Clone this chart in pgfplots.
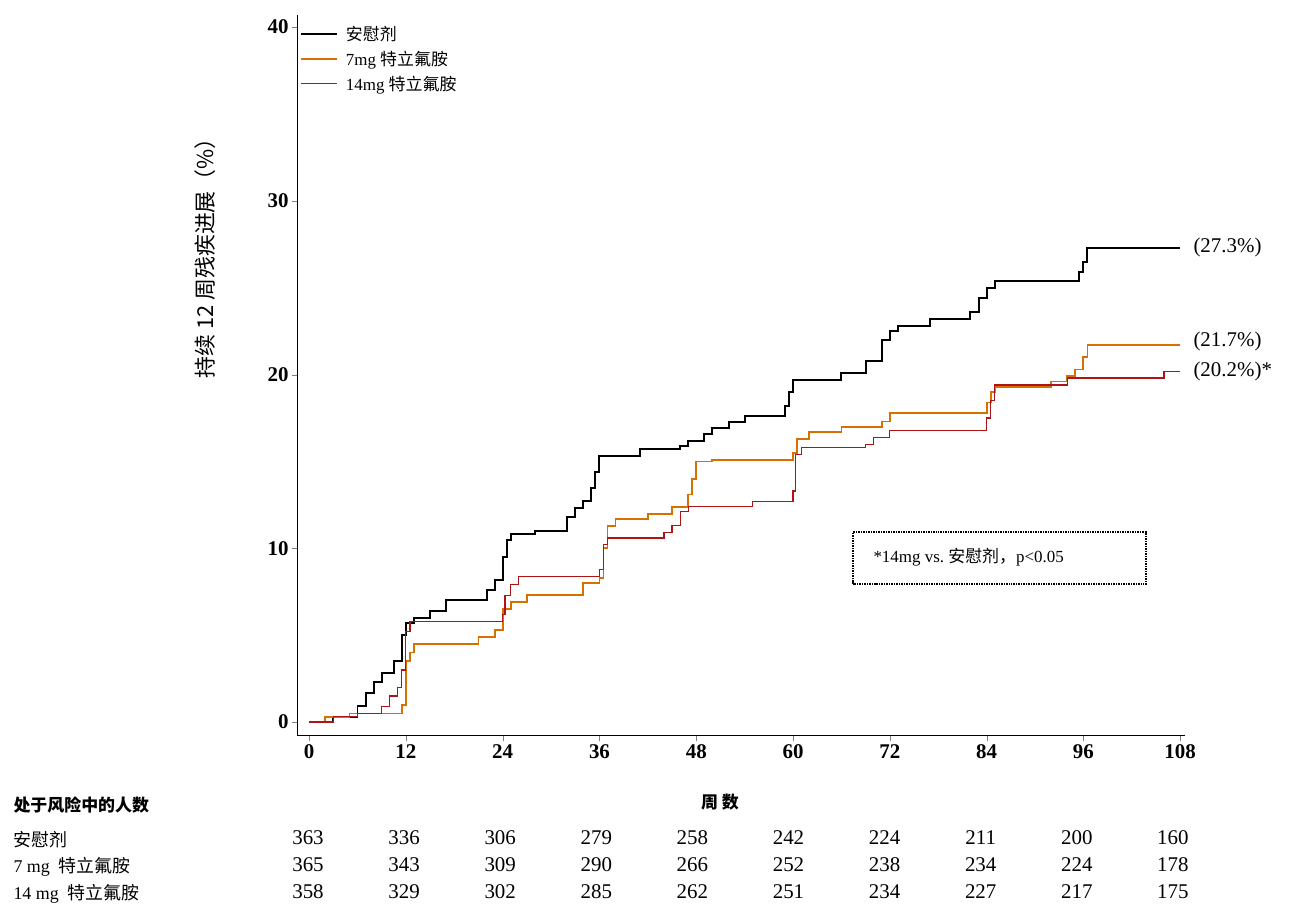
\documentclass[border=0pt]{standalone}
\usepackage{pgfplots}
\pgfplotsset{compat=1.18}
\usepackage{fontspec}
\setmainfont{Liberation Serif}
\newfontfamily\cjk{Noto Sans CJK SC}
\begin{document}
\begin{tikzpicture}[x=1bp,y=1bp]
\path (0,0) rectangle (1295,903);
\begin{axis}[at={(297bp,167bp)},anchor=south west,scale only axis,width=888bp,height=721bp,
 xmin=-1.5,xmax=108.6,ymin=-0.8,ymax=40.7,
 axis x line*=bottom, axis y line*=left, axis line style={line width=1pt},
 xtick={0,12,...,108}, ytick={0,10,20,30,40}, tick align=outside, major tick length=5bp,
 /pgf/number format/assume math mode=true,
 tick label style={font=\fontsize{21}{24}\selectfont\bfseries},
 ylabel={\cjk 持续 12 周残疾进展（\%）}, ylabel style={font=\fontsize{22}{26}\selectfont, at={(axis description cs:-0.088,0.67)}},
 legend style={at={(axis description cs:0.0,0.99)},anchor=north west,draw=none,fill=none,font=\fontsize{17}{20}\selectfont, row sep=5bp, nodes={inner xsep=8bp}},
 legend image post style={xscale=2.1},
 legend cell align=left, clip=false]
\addplot[const plot, black, line width=2pt] coordinates {(0,0)(3,0.3)(6,0.9)(7,1.7)(8,2.3)(9,2.8)(10.5,3.5)(11.5,5)(12,5.7)(13,6)(15,6.4)(17,7.0)(22,7.6)(23,8.2)(24,9.5)(24.5,10.5)(25,10.8)(28,11.0)(32,11.8)(33,12.3)(34,12.7)(35,13.5)(35.5,14.4)(36,15.3)(41,15.7)(46,15.9)(47,16.2)(49,16.6)(50,16.9)(52,17.3)(54,17.6)(59,18.2)(59.5,19)(60,19.7)(66,20.1)(69,20.8)(71,22.0)(72,22.5)(73,22.8)(77,23.2)(82,23.6)(83,24.4)(84,25.0)(85,25.4)(95.5,25.9)(96,26.5)(96.5,27.3)(108,27.3)};
\addlegendentry{\cjk 安慰剂}
\addplot[const plot, color={rgb,255:red,214;green,112;blue,0}, line width=1.8pt] coordinates {(0,0)(2,0.3)(5,0.5)(11.5,1)(12,3.5)(12.5,4)(13,4.5)(21,4.9)(23,5.3)(24,6.5)(25,6.9)(27,7.3)(34,8.0)(36,8.3)(36.5,10)(37,11.3)(38,11.7)(42,12.0)(45,12.4)(47,13.1)(47.5,14)(48,15.0)(50,15.1)(60,15.5)(60.5,16.3)(62,16.7)(66,17.0)(71,17.3)(72,17.8)(84,18.4)(84.5,19.0)(85,19.3)(92,19.6)(94,19.9)(95,20.3)(96,21.0)(96.5,21.7)(108,21.7)};
\addlegendentry{7mg {\cjk 特立氟胺}}
\addplot[const plot, color={rgb,255:red,175;green,20;blue,20}, line width=1.2pt] coordinates {(0,0)(3,0.3)(6,0.5)(9,0.9)(10,1.5)(11,2)(11.5,3)(12,5.2)(12.5,5.8)(24,6.2)(24.3,7.3)(25,7.9)(26,8.4)(36,8.8)(36.5,10.2)(37,10.6)(44,10.9)(45,11.3)(46,12.1)(47,12.4)(55,12.7)(60,13.3)(60.3,15.4)(61,15.8)(69,16.0)(70,16.4)(72,16.8)(84,17.5)(84.5,18.5)(85,19.4)(94,19.8)(106,20.2)(108,20.2)};
\addlegendentry{14mg {\cjk 特立氟胺}}
\end{axis}
\begin{scope}[font=\fontsize{21}{24}\selectfont]
\node[anchor=west] at (1190,656) {(27.3\%)};
\node[anchor=west] at (1190,562) {(21.7\%)};
\node[anchor=west] at (1190,532) {(20.2\%)*};
\end{scope}
\draw[densely dotted, line width=1.5pt] (853,319) rectangle (1146,371);
\node[anchor=west,font=\fontsize{17}{20}\selectfont] at (870,346) {*14mg vs.\ {\cjk 安慰剂，}p<0.05};
\node[anchor=west,font=\fontsize{17}{20}\selectfont\cjk\bfseries] at (10,98) {处于风险中的人数};
\node[font=\fontsize{17}{20}\selectfont\cjk\bfseries] at (720,101) {周\ 数};
\begin{scope}[font=\fontsize{18}{20}\selectfont]
\node[anchor=west] at (10,63) {\cjk 安慰剂};
\node[anchor=west] at (10,36) {7 mg\ \ {\cjk 特立氟胺}};
\node[anchor=west] at (10,9) {14 mg\ \ {\cjk 特立氟胺}};
\end{scope}
\begin{scope}[font=\fontsize{21}{24}\selectfont]
\foreach \a/\b/\c [count=\i from 0] in {363/365/358,336/343/329,306/309/302,279/290/285,258/266/262,242/252/251,224/238/234,211/234/227,200/224/217,160/178/175}{
 \pgfmathsetmacro\xx{308+96.1*\i}
 \node at (\xx,65) {\a};
 \node at (\xx,38) {\b};
 \node at (\xx,11) {\c};
}
\end{scope}
\end{tikzpicture}
\end{document}
